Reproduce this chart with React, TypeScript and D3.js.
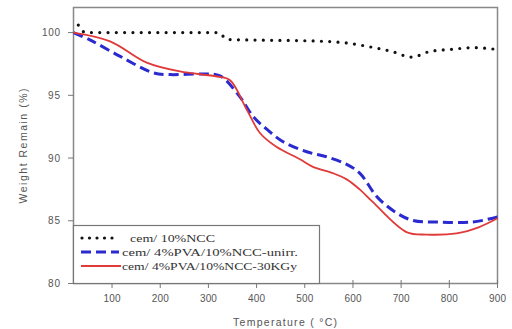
import React from "react";
import * as d3 from "d3";

const temps1 = [30, 45, 100, 200, 320, 340, 400, 500, 580, 630, 680, 722, 760, 800, 850, 900];
const ncc = [100.6, 100.0, 100.0, 100.0, 100.0, 99.45, 99.4, 99.35, 99.2, 98.9, 98.5, 98.05, 98.5, 98.65, 98.8, 98.65];

const temps2 = [20, 55, 117, 185, 220, 289, 324, 365, 393, 421, 455, 504, 545, 587, 614, 655, 718, 780, 848, 900];
const unirr = [100, 99.4, 98.1, 96.8, 96.65, 96.7, 96.55, 94.9, 93.3, 92.3, 91.3, 90.5, 90.1, 89.5, 88.8, 86.7, 85.1, 84.9, 84.9, 85.3];

const temps3 = [20, 96, 172, 241, 318, 345, 379, 407, 441, 490, 517, 558, 587, 614, 641, 711, 753, 815, 862, 900];
const kgy = [100, 99.3, 97.6, 96.9, 96.5, 96.2, 93.9, 92.0, 90.9, 89.9, 89.3, 88.8, 88.3, 87.5, 86.5, 84.1, 83.9, 84.0, 84.5, 85.2];

const xTicks = [100, 200, 300, 400, 500, 600, 700, 800, 900];
const yTicks = [80, 85, 90, 95, 100];
const legendLabels = ["cem/ 10%NCC", "cem/ 4%PVA/10%NCC-unirr.", "cem/ 4%PVA/10%NCC-30KGy"];
const legendWidths = [85, 176, 175];

export default function App() {
  const W = 512, H = 329;
  const x = d3.scaleLinear().domain([20, 900]).range([73.5, 497.5]);
  const y = d3.scaleLinear().domain([80, 102]).range([283.5, 7.5]);
  const mk = (ts: number[], vs: number[], curve: d3.CurveFactory) =>
    d3.line<number>().x((_, i) => x(ts[i])).y((v) => y(v)).curve(curve)(vs) || "";
  const sans = "Arial, Liberation Sans, sans-serif";
  const smooth = d3.curveCatmullRom.alpha(0.5);

  return (
    <svg width={W} height={H} style={{ position: "absolute", left: 0, top: 0, background: "#fff" }}>
      <rect x={73.5} y={7.5} width={424} height={276} fill="#fff" stroke="#888" strokeWidth={1.5} />
      <path d={mk(temps2, unirr, smooth)} fill="none" stroke="#2a2ad0" strokeWidth={3} strokeDasharray="10 5" />
      <path d={mk(temps3, kgy, smooth)} fill="none" stroke="#e03a3a" strokeWidth={1.8} />
      <path d={mk(temps1, ncc, d3.curveMonotoneX)} fill="none" stroke="#111" strokeWidth={3.2} strokeDasharray="0 8.3" strokeLinecap="round" />
      {yTicks.map((t) => (
        <g key={t}>
          <line x1={68} x2={73.5} y1={y(t)} y2={y(t)} stroke="#777" strokeWidth={1} />
          <text x={60} y={y(t) + 3.5} textAnchor="end" fontFamily={sans} fontSize={10} textLength={t === 100 ? 18 : 12} fill="#555">{t}</text>
        </g>
      ))}
      {xTicks.map((t) => (
        <g key={t}>
          <line x1={x(t)} x2={x(t)} y1={280} y2={288} stroke="#777" strokeWidth={1} />
          <text x={x(t)} y={302} textAnchor="middle" fontFamily={sans} fontSize={10} textLength={17} fill="#555">{t}</text>
        </g>
      ))}
      <text transform={`translate(27,146) rotate(-90)`} textAnchor="middle" fontFamily={sans} fontSize={10.5} textLength={115} fill="#555">Weight Remain (%)</text>
      <text x={285} y={326} textAnchor="middle" fontFamily={sans} fontSize={10.5} textLength={104} fill="#555">Temperature ( °C)</text>
      <rect x={73.5} y={225.5} width={246} height={58} fill="#fff" stroke="#777" strokeWidth={1.2} />
      <line x1={82} x2={118} y1={238} y2={238} stroke="#111" strokeWidth={3.2} strokeDasharray="0 7.5" strokeLinecap="round" />
      <line x1={81} x2={119} y1={252} y2={252} stroke="#2a2ad0" strokeWidth={3} strokeDasharray="10 5" />
      <line x1={81} x2={121} y1={266} y2={266} stroke="#e03a3a" strokeWidth={2} />
      {legendLabels.map((l, i) => (
        <text key={l} x={i === 0 ? 130 : 122} y={242 + i * 14} fontFamily="Liberation Serif, Times New Roman, serif" fontSize={11} textLength={legendWidths[i]} lengthAdjust="spacingAndGlyphs" fill="#333">{l}</text>
      ))}
    </svg>
  );
}
